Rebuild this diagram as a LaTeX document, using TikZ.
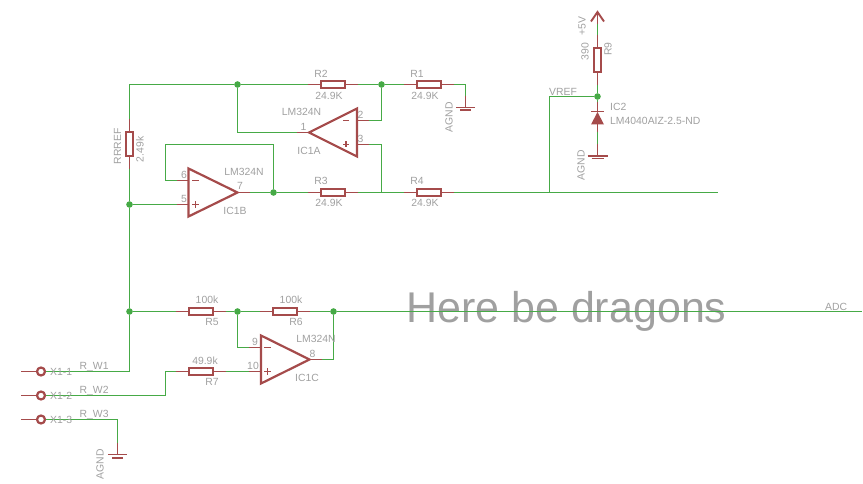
\documentclass[tikz,border=0pt]{standalone}
\usepackage{fontspec}
\setmainfont{Liberation Sans}
\definecolor{wirec}{RGB}{70,170,70}
\definecolor{partc}{RGB}{165,75,75}
\definecolor{textc}{RGB}{160,160,160}
\tikzset{
 wire/.style={draw=wirec,line width=1.3pt},
 pin/.style={draw=partc,line width=1.2pt},
 bar/.style={draw=partc,line width=1.9pt},
 junc/.style={circle,fill=wirec,inner sep=0pt,minimum size=6.6pt},
 hres/.style={draw=partc,line width=2pt,inner sep=0pt,minimum width=23.5pt,minimum height=7.5pt},
 vres/.style={draw=partc,line width=2pt,inner sep=0pt,minimum width=7.5pt,minimum height=23.5pt},
 lbl/.style={text=textc,font=\fontsize{10.4pt}{11pt}\selectfont,inner sep=0pt},
 opamp/.style={draw=partc,line width=2.2pt,line join=miter},
 pad/.style={circle,draw=partc,line width=2.2pt,inner sep=0pt,minimum size=8pt},
}
\begin{document}
\begin{tikzpicture}[x=1pt,y=-1pt]
\useasboundingbox (0,0) rectangle (863,484);
\node[text=textc,inner sep=0pt,anchor=base west,font=\fontsize{43pt}{45pt}\selectfont] (big) at (406,322.5) {Here be dragons};
% resistors
\node[hres] (R2) at (333,84.5) {};
\node[hres] (R1) at (429,84.5) {};
\node[hres] (R3) at (333,192.5) {};
\node[hres] (R4) at (429,192.5) {};
\node[hres] (R5) at (201,311.5) {};
\node[hres] (R6) at (285,311.5) {};
\node[hres] (R7) at (201,371.5) {};
\node[vres] (RR) at (129.5,144) {};
\node[vres] (R9) at (597.5,60) {};
% pin ends
\foreach \r in {R1,R2,R3,R4,R5,R6,R7}{
 \coordinate (\r l) at ([xshift=-12pt]\r.west);
 \coordinate (\r r) at ([xshift=12pt]\r.east);
 \draw[pin] (\r.west) -- (\r l);
 \draw[pin] (\r.east) -- (\r r);
}
\foreach \r in {RR,R9}{
 \coordinate (\r t) at ([yshift=12pt]\r.north);
 \coordinate (\r b) at ([yshift=-12pt]\r.south);
 \draw[pin] (\r.north) -- (\r t);
 \draw[pin] (\r.south) -- (\r b);
}
% op-amps
\coordinate (Aa) at (309,132.5);
\coordinate (Ab) at (357,108.5);
\coordinate (Ac) at (357,156.5);
\draw[opamp] (Aa) -- (Ab) -- (Ac) -- cycle;
\coordinate (Ba) at (237.5,192.5);
\coordinate (Bb) at (188.5,168.5);
\coordinate (Bc) at (188.5,216.5);
\draw[opamp] (Ba) -- (Bb) -- (Bc) -- cycle;
\coordinate (Ca) at (309.5,359.5);
\coordinate (Cb) at (261,335.5);
\coordinate (Cc) at (261,383.5);
\draw[opamp] (Ca) -- (Cb) -- (Cc) -- cycle;
% op-amp pins
\coordinate (A1) at (297,132.5); \draw[pin] (Aa) -- (A1);
\coordinate (A2) at (369,120.5); \draw[pin] (357,120.5) -- (A2);
\coordinate (A3) at (369,144.5); \draw[pin] (357,144.5) -- (A3);
\coordinate (B6) at (176.5,180.5); \draw[pin] (188.5,180.5) -- (B6);
\coordinate (B5) at (176.5,204.5); \draw[pin] (188.5,204.5) -- (B5);
\coordinate (B7) at (249.5,192.5); \draw[pin] (Ba) -- (B7);
\coordinate (C9) at (249,347.5); \draw[pin] (261,347.5) -- (C9);
\coordinate (C10) at (249,371.5); \draw[pin] (261,371.5) -- (C10);
\coordinate (C8) at (321.5,359.5); \draw[pin] (Ca) -- (C8);
% plus/minus
\draw[pin] (349,120.5) -- (343,120.5);
\draw[pin] (343,144.5) -- (349,144.5) (346,141.5) -- (346,147.5);
\draw[pin] (192,180.5) -- (198.5,180.5);
\draw[pin] (192,204.5) -- (198.5,204.5) (195.2,201.2) -- (195.2,207.8);
\draw[pin] (264,347.5) -- (270.5,347.5);
\draw[pin] (264,371.5) -- (270.5,371.5) (267.2,368.2) -- (267.2,374.8);
% connectors
\coordinate (ct) at (129.5,84.5);
\coordinate (n1) at (381.5,192.5);
\coordinate (n2) at (549.5,192.5);
\coordinate (wend) at (718,192.5);
\coordinate (adc) at (862,311.5);
\coordinate (fb) at (165.5,144.5);
\coordinate (r7w) at (165.5,371.5);
\node[junc] (j1) at (237.5,84.5) {};
\node[junc] (j2) at (381.5,84.5) {};
\node[junc] (j3) at (129.5,204.5) {};
\node[junc] (j4) at (273.5,192.5) {};
\node[junc] (j5) at (129.5,311.5) {};
\node[junc] (j6) at (237.5,311.5) {};
\node[junc] (j7) at (333.5,311.5) {};
\node[junc] (j8) at (597.5,96.5) {};
\draw[wire] (RRt) -- (ct) -- (j1) -- (R2l);
\draw[wire] (R2r) -- (j2) -- (R1l);
\draw[wire] (j1) |- (A1);
\draw[wire] (A2) -| (j2);
\draw[wire] (A3) -| (n1);
\draw[wire] (RRb) -- (j3) -- (j5);
\draw[wire] (j3) -- (B5);
\draw[wire] (B7) -- (j4) -- (R3l);
\draw[wire] (R3r) -- (n1) -- (R4l);
\draw[wire] (R4r) -- (n2) -- (wend);
\draw[wire] (j4) |- (fb) |- (B6);
\draw[wire] (j5) -- (R5l);
\draw[wire] (R5r) -- (j6) -- (R6l);
\draw[wire] (R6r) -- (j7) -- (adc);
\draw[wire] (j6) |- (C9);
\draw[wire] (C8) -| (j7);
\draw[wire] (R7r) -- (C10);
% connector pads
\node[pad] (X1) at (41,371.5) {};
\node[pad] (X2) at (41,395.5) {};
\node[pad] (X3) at (41,419.5) {};
\foreach \p/\y in {X1/371.5,X2/395.5,X3/419.5}{
 \coordinate (\p s) at (21,\y);
 \draw[pin] (\p s) -- (\p);
}
\draw[wire] (X1) -| (j5);
\draw[wire] (X2) -| (r7w) -- (R7l);
% grounds
\coordinate (g1) at (465.5,107.5);
\coordinate (g1p) at (465.5,96);
\coordinate (g3) at (117.5,454.5);
\coordinate (g3p) at (117.5,443);
\draw[wire] (R1r) -| (g1p);
\draw[pin] (g1p) -- (g1);
\draw[bar] (456,107.5) -- (475,107.5);
\draw[bar] (460,110) -- (471,110);
\draw[wire] (X3) -| (g3p);
\draw[pin] (g3p) -- (g3);
\draw[bar] (108,454.5) -- (127,454.5);
\draw[bar] (112,458) -- (123,458);
\draw[bar] (587.5,156) -- (607.5,156);
\draw[bar] (591.5,158.5) -- (603.5,158.5);
% IC2 and supply
\coordinate (sup) at (597.5,12);
\coordinate (supp) at (597.5,24);
\draw[wire] (R9t) -- (supp);
\draw[pin] (supp) -- (sup);
\draw[bar] (591,21.5) -- (sup) -- (604,21.5);
\draw[wire] (R9b) -- (j8);
\draw[wire] (j8) -| (n2);
\coordinate (d1) at (597.5,102);
\coordinate (d2) at (597.5,112);
\coordinate (d3) at (597.5,124);
\coordinate (d4) at (597.5,132);
\coordinate (d5) at (597.5,144);
\coordinate (d6) at (597.5,156);
\draw[wire] (j8) -- (d1);
\draw[pin] (d1) -- (d2);
\fill[partc] (591,124.5) -- (604,124.5) -- (d2) -- cycle;
\draw[bar] (591,111.5) -- (603.5,111.5);
\draw[pin] (d3) -- (d4);
\draw[wire] (d4) -- (d5);
\draw[pin] (d5) -- (d6);
% labels
\node[lbl] (l1) at (321,73.5) {R2};
\node[lbl] (l2) at (329,95.5) {24.9K};
\node[lbl] (l3) at (417,73.5) {R1};
\node[lbl] (l4) at (425,95.5) {24.9K};
\node[lbl] (l5) at (321,181) {R3};
\node[lbl] (l6) at (329,203) {24.9K};
\node[lbl] (l7) at (417,181) {R4};
\node[lbl] (l8) at (425,203) {24.9K};
\node[lbl] (l9) at (207,300) {100k};
\node[lbl] (l10) at (212,322) {R5};
\node[lbl] (l11) at (291,300) {100k};
\node[lbl] (l12) at (296,322) {R6};
\node[lbl] (l13) at (205,360.5) {49.9k};
\node[lbl] (l14) at (212,382) {R7};
\node[lbl] (l15) at (301.5,112) {LM324N};
\node[lbl] (l16) at (309,151) {IC1A};
\node[lbl] (l17) at (244,172) {LM324N};
\node[lbl] (l18) at (235,211) {IC1B};
\node[lbl] (l19) at (316,339) {LM324N};
\node[lbl] (l20) at (307,378) {IC1C};
\node[lbl,rotate=90] (l21) at (117.5,146.5) {RRREF};
\node[lbl,rotate=90] (l22) at (140,149.5) {2.49k};
\node[lbl,rotate=90] (l23) at (449,117.5) {AGND};
\node[lbl,rotate=90] (l24) at (100,464.5) {AGND};
\node[lbl,rotate=90] (l25) at (581,165.5) {AGND};
\node[lbl,rotate=90] (l26) at (585,51.5) {390};
\node[lbl,rotate=90] (l27) at (582,26) {+5V};
\node[lbl,rotate=90] (l28) at (608,49) {R9};
\node[lbl,anchor=west] (l29) at (549,92) {VREF};
\node[lbl,anchor=west] (l30) at (610,107) {IC2};
\node[lbl,anchor=west] (l31) at (610,120.5) {LM4040AIZ-2.5-ND};
\node[lbl,anchor=west] (l32) at (825,307) {ADC};
\node[lbl,anchor=west] (l33) at (50,371.5) {X1-1};
\node[lbl,anchor=west] (l34) at (50,395.5) {X1-2};
\node[lbl,anchor=west] (l35) at (50,419.5) {X1-3};
\node[lbl,anchor=base west] (l36) at (79.5,369) {R\_W1};
\node[lbl,anchor=base west] (l37) at (79.5,393) {R\_W2};
\node[lbl,anchor=base west] (l38) at (79.5,417) {R\_W3};
% pin numbers
\node[lbl] (p1) at (303.5,127) {1};
\node[lbl] (p2) at (360.5,115) {2};
\node[lbl] (p3) at (360.5,139) {3};
\node[lbl] (p6) at (184,175) {6};
\node[lbl] (p5) at (184,198.5) {5};
\node[lbl] (p7) at (240,186) {7};
\node[lbl] (p9) at (255,342) {9};
\node[lbl] (p10) at (253,366) {10};
\node[lbl] (p8) at (312.5,354) {8};
\end{tikzpicture}
\end{document}
